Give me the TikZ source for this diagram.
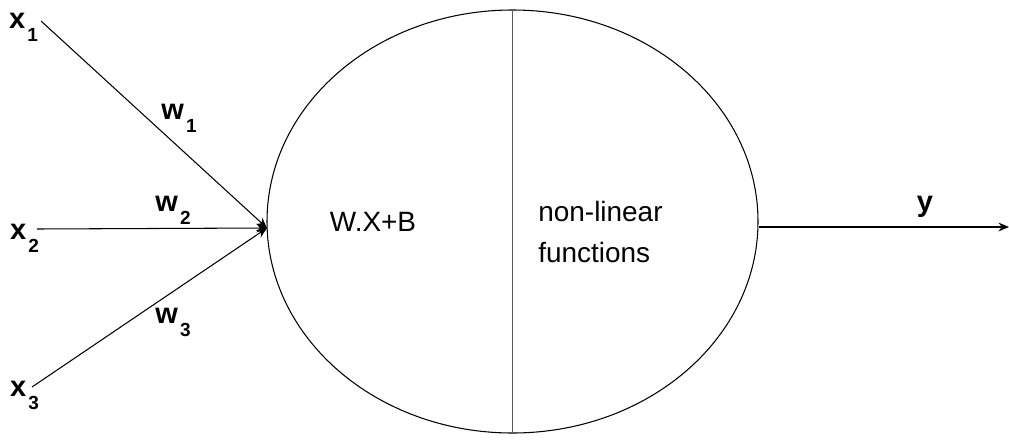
\documentclass[tikz,border=0pt]{standalone}
\usepackage{fontspec}
\setmainfont{Liberation Sans}
\usepackage{tikz}
\usetikzlibrary{shapes.geometric, arrows.meta, positioning}
\newcommand{\subidx}[1]{\hspace{0.04cm}\raisebox{-0.26cm}{\fontsize{10.8}{10.8}\selectfont\bfseries #1}}

\begin{document}
\begin{tikzpicture}[
      unitbox/.style={draw, ellipse, line width=0.6pt,
                    minimum width=9.82cm, minimum height=8.46cm, inner sep=0pt},
      lbl/.style={font=\fontsize{16.5}{23.3}\selectfont\bfseries, inner sep=0pt},
      txt/.style={font=\fontsize{15.9}{23.3}\selectfont, inner sep=0pt, align=left},
      arr/.style={-{Stealth[length=6pt, width=5pt]}, line width=0.6pt}
    ]
      \useasboundingbox (0,0) rectangle (20.18,8.88);

      \node[unitbox] (unit) at (10.25,4.45) {};
      \draw[line width=0.6pt, black!65] (unit.north) -- (unit.south);

      \coordinate (sum) at (5.34,4.32);
      \coordinate (in1) at (0.82,8.46);
      \coordinate (in2) at (0.74,4.30);
      \coordinate (in3) at (0.64,1.14);
      \coordinate (out) at (20.18,4.34);

      \node[lbl] (x1) at (0.47,8.34) {x\subidx{1}};
      \node[lbl] (x2) at (0.49,4.12) {x\subidx{2}};
      \node[lbl] (x3) at (0.49,0.98) {x\subidx{3}};
      \node[lbl] (w1) at (3.58,6.52) {w\subidx{1}};
      \node[lbl] (w2) at (3.46,4.68) {w\subidx{2}};
      \node[lbl] (w3) at (3.46,2.44) {w\subidx{3}};
      \node[lbl] (y) at (18.50,4.74) {y};

      \node[txt] (lin) at (7.46,4.44) {W.X+B};
      \node[txt, anchor=west] (act) at (10.76,4.24) {non-linear\\functions};

      \draw[arr] (in1) -- (sum);
      \draw[arr] (in2) -- (sum);
      \draw[arr] (in3) -- (sum);
      \draw[arr] (unit.east |- out) -- (out);
    \end{tikzpicture}
\end{document}
